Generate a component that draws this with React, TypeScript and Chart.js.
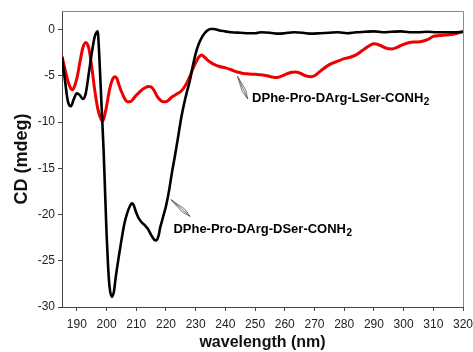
import React, { useEffect, useRef } from "react";
import { Chart, registerables } from "chart.js";

Chart.register(...registerables);

// ---- Data ----
const WAVELENGTH_DSER = [
  185, 186, 187, 188, 189, 190, 191, 192, 193, 194, 195, 196, 197, 197.5, 198, 198.5,
  199, 199.5, 200, 200.5, 201, 201.8, 202.5, 203, 204, 205, 206, 207, 208, 208.5, 209,
  210, 211, 212, 213, 214, 215, 216, 216.6, 217.5, 218, 219, 220, 221, 222, 223, 224,
  225, 226, 227, 228, 229, 230, 231, 232, 233, 234, 235, 236, 237, 238, 240, 242, 245,
  248, 250, 252, 255, 258, 260, 263, 266, 269, 272, 275, 278, 281, 284, 287, 290, 293,
  296, 299, 302, 305, 308, 311, 314, 317, 320,
];
const CD_DSER = [
  -3.0, -5.5, -7.8, -8.3, -7.5, -6.9, -7.1, -7.5, -6.9, -4.8, -2.6, -0.8, -0.2, -2.5, -6.0, -9.5,
  -13.0, -17.5, -22.0, -25.5, -27.8, -28.9, -28.3, -27.0, -24.8, -22.8, -21.0, -19.8, -19.0, -18.8, -18.9,
  -19.8, -20.5, -20.9, -21.2, -21.6, -22.2, -22.7, -22.8, -22.3, -21.5, -20.3, -19.1, -17.5, -15.5, -13.7, -11.8,
  -9.8, -8.2, -6.8, -5.6, -4.0, -2.6, -1.6, -0.9, -0.4, -0.1, 0.05, 0.05, 0.0, -0.1, -0.2, -0.3, -0.35,
  -0.4, -0.4, -0.3, -0.35, -0.45, -0.4, -0.3, -0.35, -0.45, -0.4, -0.35, -0.3, -0.4, -0.3, -0.25, -0.2, -0.3,
  -0.25, -0.2, -0.3, -0.3, -0.25, -0.3, -0.3, -0.3, -0.25,
];
const WAVELENGTH_LSER = [
  185, 186, 187, 188, 188.5, 189, 190, 191, 192, 193, 194, 195, 196, 197, 198, 198.6, 199,
  200, 201, 202, 202.8, 203.5, 204, 205, 206, 207, 208, 209, 210, 211, 212, 213, 214, 215,
  216, 217, 218, 219, 220, 221, 222, 223, 224, 225, 226, 227, 228, 229, 230, 231, 232, 233,
  234, 235, 236, 238, 240, 242, 244, 246, 248, 250, 252, 254, 256, 257, 258, 260, 262,
  263.5, 265, 267, 269, 270, 272, 275, 278, 280, 282, 284, 286, 288, 290, 292, 294, 296,
  298, 300, 302, 304, 306, 308, 310, 312, 314, 316, 318, 320,
];
const CD_LSER = [
  -2.9, -4.3, -5.6, -6.4, -6.5, -6.3, -5.3, -3.6, -2.0, -1.4, -2.0, -4.0, -6.5, -8.5, -9.6, -9.9, -9.7,
  -8.3, -6.5, -5.4, -5.1, -5.3, -5.8, -6.7, -7.4, -7.8, -7.8, -7.5, -7.1, -6.8, -6.5, -6.3, -6.15, -6.2,
  -6.6, -7.2, -7.6, -7.8, -7.8, -7.6, -7.3, -7.1, -6.9, -6.7, -6.3, -5.8, -5.1, -4.3, -3.6, -3.0, -2.75, -3.0,
  -3.3, -3.55, -3.75, -4.0, -4.15, -4.35, -4.6, -4.75, -4.8, -4.85, -4.9, -5.0, -5.15, -5.2, -5.15, -4.9, -4.65,
  -4.6, -4.7, -5.0, -5.1, -5.0, -4.5, -3.8, -3.4, -3.15, -3.0, -2.75, -2.3, -1.85, -1.55, -1.7, -2.0, -2.1,
  -1.9, -1.6, -1.4, -1.35, -1.3, -1.1, -0.75, -0.65, -0.6, -0.55, -0.4, -0.25,
];
const X_TICKS = [190, 200, 210, 220, 230, 240, 250, 260, 270, 280, 290, 300, 310, 320];
const Y_TICKS = [-30, -25, -20, -15, -10, -5, 0];
const LABEL_DSER = "DPhe-Pro-DArg-DSer-CONH";
const LABEL_LSER = "DPhe-Pro-DArg-LSer-CONH";
const LABEL_SUB = "2";
const X_TITLE = "wavelength (nm)";
const Y_TITLE = "CD (mdeg)";

const FONT = "'Liberation Sans', Arial, Helvetica, sans-serif";

// annotation placement (data coordinates)
const ANNOTATIONS = [
  { text: LABEL_LSER, x: 249, y: -7.45, from: [244.1, -5.07], to: [247.5, -7.5] },
  { text: LABEL_DSER, x: 222.5, y: -21.6, from: [221.7, -18.4], to: [228.1, -20.2] },
];

const annotationPlugin = {
  id: "annotations",
  afterDraw(chart: any) {
    const { ctx, scales, chartArea } = chart;
    const xs = scales.x;
    const ys = scales.y;
    ctx.save();
    // box (top & right)
    ctx.strokeStyle = "#8a8a8a";
    ctx.lineWidth = 1;
    ctx.beginPath();
    ctx.moveTo(chartArea.left, chartArea.top + 0.5);
    ctx.lineTo(chartArea.right + 0.5, chartArea.top + 0.5);
    ctx.lineTo(chartArea.right + 0.5, chartArea.bottom);
    ctx.stroke();

    for (const a of ANNOTATIONS) {
      const sx = xs.getPixelForValue(a.from[0]);
      const sy = ys.getPixelForValue(a.from[1]);
      const tx = xs.getPixelForValue(a.to[0]);
      const ty = ys.getPixelForValue(a.to[1]);
      const ang = Math.atan2(ty - sy, tx - sx);
      const wing = 9;
      const spread = 0.22;
      const w1 = [tx - wing * Math.cos(ang - spread), ty - wing * Math.sin(ang - spread)];
      const w2 = [tx - wing * Math.cos(ang + spread), ty - wing * Math.sin(ang + spread)];
      ctx.strokeStyle = "#555";
      ctx.lineWidth = 0.8;
      ctx.beginPath();
      ctx.moveTo(sx, sy);
      ctx.lineTo(tx, ty);
      ctx.moveTo(w1[0], w1[1]);
      ctx.lineTo(tx, ty);
      ctx.lineTo(w2[0], w2[1]);
      ctx.moveTo(sx, sy);
      ctx.lineTo(w1[0], w1[1]);
      ctx.moveTo(sx, sy);
      ctx.lineTo(w2[0], w2[1]);
      ctx.stroke();

      const px = xs.getPixelForValue(a.x);
      const py = ys.getPixelForValue(a.y);
      ctx.fillStyle = "#000";
      ctx.textBaseline = "middle";
      ctx.textAlign = "left";
      ctx.font = `bold 13px ${FONT}`;
      ctx.fillText(a.text, px, py);
      const w = ctx.measureText(a.text).width;
      ctx.font = `bold 10px ${FONT}`;
      ctx.fillText(LABEL_SUB, px + w + 0.5, py + 4);
    }
    ctx.restore();
  },
};

export default function App() {
  const canvasRef = useRef<HTMLCanvasElement | null>(null);

  useEffect(() => {
    if (!canvasRef.current) return;
    const chart = new Chart(canvasRef.current, {
      type: "line",
      data: {
        datasets: [
          {
            label: LABEL_DSER,
            data: WAVELENGTH_DSER.map((x, i) => ({ x, y: CD_DSER[i] })),
            borderColor: "#000000",
            borderWidth: 2.6,
            pointRadius: 0,
            cubicInterpolationMode: "monotone",
            fill: false,
          },
          {
            label: LABEL_LSER,
            data: WAVELENGTH_LSER.map((x, i) => ({ x, y: CD_LSER[i] })),
            borderColor: "#ee0000",
            borderWidth: 3,
            pointRadius: 0,
            cubicInterpolationMode: "monotone",
            fill: false,
          },
        ],
      },
      options: {
        animation: false,
        responsive: true,
        maintainAspectRatio: false,
        layout: { padding: { top: 11, right: 10, left: 0, bottom: 0 } },
        plugins: {
          legend: { display: false },
          tooltip: { enabled: false },
        },
        scales: {
          x: {
            type: "linear",
            min: 185,
            max: 320,
            afterFit: (s: any) => {
              s.height = 45;
              s.paddingLeft = 0;
              s.paddingRight = 0;
            },
            afterBuildTicks: (s: any) => {
              s.ticks = X_TICKS.map((v) => ({ value: v }));
            },
            grid: { drawOnChartArea: false, drawTicks: true, tickLength: 4, tickColor: "#444" },
            border: { display: true, color: "#444", width: 1 },
            ticks: {
              font: { size: 12, family: FONT },
              color: "#222",
              padding: 6,
              maxRotation: 0,
              autoSkip: false,
            },
            title: {
              display: true,
              text: X_TITLE,
              color: "#111",
              font: { size: 16, weight: "bold", family: FONT },
              padding: { top: 0, bottom: 0 },
            },
          },
          y: {
            type: "linear",
            min: -30,
            max: 2,
            afterFit: (s: any) => {
              s.width = 62;
              s.paddingTop = 0;
              s.paddingBottom = 0;
            },
            afterBuildTicks: (s: any) => {
              s.ticks = Y_TICKS.map((v) => ({ value: v }));
            },
            grid: { drawOnChartArea: false, drawTicks: true, tickLength: 4, tickColor: "#444" },
            border: { display: true, color: "#444", width: 1 },
            ticks: {
              font: { size: 12, family: FONT },
              color: "#222",
              padding: 3,
            },
            title: {
              display: true,
              text: Y_TITLE,
              color: "#111",
              font: { size: 18, weight: "bold", family: FONT },
              padding: { top: 11, bottom: 0 },
            },
          },
        },
      },
      plugins: [annotationPlugin],
    });
    return () => chart.destroy();
  }, []);

  return (
    <div style={{ position: "absolute", left: 0, top: 0, width: 473, height: 352, background: "#fff" }}>
      <canvas ref={canvasRef} />
    </div>
  );
}
